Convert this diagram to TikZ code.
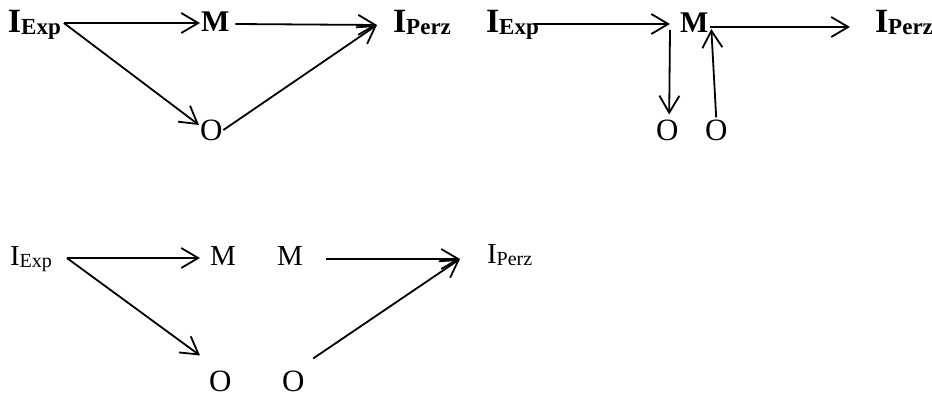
\documentclass[tikz,border=0pt]{standalone}
\usepackage{fontspec}
\setmainfont{Liberation Serif}
\usetikzlibrary{arrows.meta,calc}
\newcommand{\bigIsub}[1]{{\fontsize{34}{34}\selectfont\bfseries I\raisebox{-2pt}{\fontsize{23}{23}\selectfont #1}}}
\newcommand{\smallIsub}[1]{{\fontsize{29}{29}\selectfont I\raisebox{-2pt}{\fontsize{20}{20}\selectfont #1}}}
\tikzset{
  lbl/.style={inner sep=0pt, outer sep=0pt, anchor=base west},
  bigtxt/.style={lbl, font=\fontsize{30}{30}\selectfont\bfseries},
  midtxt/.style={lbl, font=\fontsize{29}{29}\selectfont},
  otxt/.style={lbl, font=\fontsize{31}{31}\selectfont},
  arr/.style={line width=1.8pt, -{Straight Barb[length=17pt,width=20pt,line width=1.8pt]}}
}
\begin{document}
\begin{tikzpicture}[x=1pt,y=-1pt]
\path[use as bounding box] (0,0) rectangle (932,396);
% Panel 1
\node[lbl] (e1) at (8,33) {\bigIsub{Exp}};
\node[bigtxt] (m1) at (201,32) {M};
\node[lbl] (p1) at (393,33) {\bigIsub{Perz}};
\node[otxt] (o1) at (200,140) {O};
\draw[arr] ($(e1.base east)+(3,-10)$) -- ($(m1.base west)+(-1,-9)$);
\draw[arr] ($(m1.base east)+(6,-8)$) -- ($(p1.base west)+(-16,-8)$);
\draw[arr] ($(e1.base east)+(3,-10)$) -- ($(o1.base west)+(-1,-15)$);
\draw[arr] ($(o1.base east)+(1,-10)$) -- ($(p1.base west)+(-16,-8)$);
% Panel 2
\node[lbl] (e2) at (486,33) {\bigIsub{Exp}};
\node[bigtxt] (m2) at (680,33) {M};
\node[lbl] (p2) at (875,33) {\bigIsub{Perz}};
\node[otxt] (oa) at (656,140) {O};
\node[otxt] (ob) at (705,140) {O};
\draw[arr] ($(e2.base east)+(-5,-9)$) -- ($(m2.base west)+(-10,-9)$);
\draw[arr] ($(m2.base east)+(2,-6)$) -- ($(p2.base west)+(-25,-6)$);
\draw[arr] ($(m2.base west)+(-10,-3)$) -- ($(oa.north)+(2,-5)$);
\draw[arr] ($(ob.north)+(0,-2)$) -- ($(m2.base east)+(3,-4)$);
% Panel 3
\node[lbl] (e3) at (10,265) {\smallIsub{Exp}};
\node[midtxt] (m3a) at (210,265) {M};
\node[midtxt] (m3b) at (277,265) {M};
\node[lbl] (p3) at (487,263) {\smallIsub{Perz}};
\node[otxt] (o3a) at (209,391) {O};
\node[otxt] (o3b) at (282,391) {O};
\draw[arr] ($(e3.base east)+(15,-7)$) -- ($(m3a.base west)+(-10,-7)$);
\draw[arr] ($(e3.base east)+(15,-7)$) -- ($(o3a.north west)+(-9,-15)$);
\draw[arr] ($(m3b.base east)+(23,-6)$) -- ($(p3.base west)+(-27,-4)$);
\draw[arr] ($(o3b.north)+(20,-12)$) -- ($(p3.base west)+(-27,-4)$);
\end{tikzpicture}
\end{document}
